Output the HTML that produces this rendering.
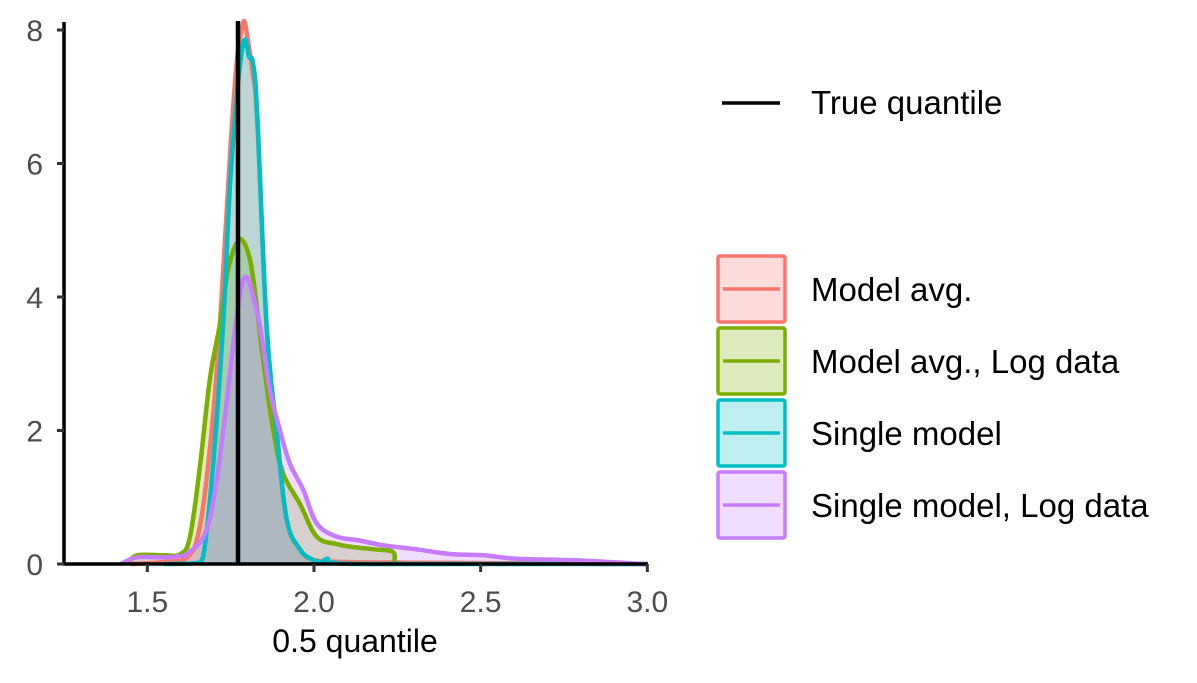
<!DOCTYPE html>
<html><head><meta charset="utf-8"><style>
body{margin:0;background:#fff;}
svg{display:block;font-family:"Liberation Sans",Arial,sans-serif;}
</style></head><body>
<svg id="chart" width="1197" height="683">
<rect width="1197" height="683" fill="#fff"/>
<g id="fills"></g><g id="lines"></g><g id="axes"></g><g id="legend"></g>
</svg>
<script>
const seriesNames = ["Model avg.","Model avg., Log data","Single model","Single model, Log data"];
const seriesColors = ["#F8766D","#7CAE00","#00BFC4","#C77CFF"];
const redX = [1.45,1.55,1.62,1.655,1.685,1.71,1.73,1.75,1.77,1.785,1.792,1.80,1.815,1.83,1.858,1.888,1.918,1.958,2.0,2.1,2.3,2.6,3.0];
const redY = [0,0.03,0.1,0.5,1.6,3.0,4.6,6.3,7.6,8.05,8.12,7.9,7.4,6.6,3.5,1.95,0.65,0.22,0.06,0.03,0.02,0.01,0];
const greenX = [1.44,1.47,1.55,1.60,1.628,1.658,1.688,1.718,1.738,1.758,1.775,1.785,1.80,1.817,1.848,1.878,1.908,1.958,2.008,2.068,2.108,2.18,2.237,2.24];
const greenY = [0,0.13,0.13,0.15,0.41,1.47,2.78,3.6,4.3,4.7,4.85,4.85,4.7,4.3,3.04,2.0,1.35,0.9,0.41,0.3,0.26,0.22,0.18,0];
const cyanX = [1.55,1.64,1.667,1.697,1.727,1.748,1.768,1.784,1.795,1.805,1.817,1.83,1.858,1.888,1.918,1.958,1.99,2.02,2.04,2.06,2.2,3.0];
const cyanY = [0,0.01,0.1,1.47,3.56,5.67,6.98,7.7,7.85,7.6,7.5,6.72,3.56,2.0,0.67,0.22,0.08,0.03,0.08,0.02,0,0];
const purpleX = [1.42,1.47,1.55,1.60,1.618,1.668,1.698,1.728,1.758,1.768,1.782,1.795,1.81,1.838,1.868,1.898,1.928,1.968,2.008,2.068,2.128,2.208,2.308,2.408,2.508,2.608,2.81,2.99];
const purpleY = [0,0.1,0.1,0.12,0.15,0.4,0.94,2.0,3.3,3.7,4.15,4.3,4.15,3.56,2.6,2.0,1.5,1.11,0.61,0.41,0.36,0.28,0.22,0.15,0.13,0.08,0.05,0];
const xTicks = [1.5,2.0,2.5,3.0];
const xTickLabels = ["1.5","2.0","2.5","3.0"];
const yTicks = [0,2,4,6,8];
const trueQuantile = 1.772;

const NS="http://www.w3.org/2000/svg";
const X = v => 64 + (v-1.25)*333.33;
const Y = d => 564 - d*66.75;
function mk(tag, attrs, parent){const e=document.createElementNS(NS,tag);for(const k in attrs)e.setAttribute(k,attrs[k]);parent.appendChild(e);return e;}
function smooth(p){
  let d="M"+p[0][0].toFixed(1)+","+p[0][1].toFixed(1);
  for(let i=0;i<p.length-1;i++){
    const p0=p[Math.max(i-1,0)],p1=p[i],p2=p[i+1],p3=p[Math.min(i+2,p.length-1)];
    const t=0.18;
    let c1y=p1[1]+(p2[1]-p0[1])*t, c2y=p2[1]-(p3[1]-p1[1])*t;
    const lo=Math.min(p1[1],p2[1])-4, hi=Math.max(p1[1],p2[1])+4;
    c1y=Math.min(Math.max(c1y,lo),Math.min(hi,564)); c2y=Math.min(Math.max(c2y,lo),Math.min(hi,564));
    d+=" C"+(p1[0]+(p2[0]-p0[0])*t).toFixed(1)+","+c1y.toFixed(1)+" "+(p2[0]-(p3[0]-p1[0])*t).toFixed(1)+","+c2y.toFixed(1)+" "+p2[0].toFixed(1)+","+p2[1].toFixed(1);
  }
  return d;
}
const fills=document.getElementById('fills'), lines=document.getElementById('lines'), axes=document.getElementById('axes'), legend=document.getElementById('legend');
const data=[[redX,redY],[greenX,greenY],[cyanX,cyanY],[purpleX,purpleY]];
const keys=["model-avg","model-avg-log","single-model","single-model-log"];
data.forEach((s,i)=>{
  const pts=s[0].map((v,j)=>[X(v),Y(s[1][j])]);
  const path=smooth(pts);
  const area=mk('path',{d:"M"+pts[0][0]+","+Y(0)+" L"+path.slice(1)+" L"+pts[pts.length-1][0]+","+Y(0)+"Z",fill:seriesColors[i],'fill-opacity':0.25,stroke:'none'},fills);
  
  
  const ln=mk('path',{d:path,fill:'none',stroke:seriesColors[i],'stroke-width':4.5,'stroke-linejoin':'round'},lines);
  
  
});
const vl=mk('line',{x1:X(trueQuantile),x2:X(trueQuantile),y1:21,y2:564,stroke:'#000','stroke-width':4.5},lines);


const ya=mk('line',{x1:64,x2:64,y1:22,y2:565,stroke:'#000','stroke-width':3.5},axes);


const xa=mk('line',{x1:63,x2:648,y1:564,y2:564,stroke:'#000','stroke-width':3.5},axes);


yTicks.forEach(t=>{
  mk('line',{x1:57,x2:64,y1:Y(t),y2:Y(t),stroke:'#333','stroke-width':3},axes);
  const tx=mk('text',{x:43,y:Y(t)+11,'text-anchor':'end','font-size':30,fill:'#4d4d4d'},axes);tx.textContent=t;
  
  
});
xTicks.forEach((t,i)=>{
  mk('line',{x1:X(t),x2:X(t),y1:564,y2:572,stroke:'#333','stroke-width':3},axes);
  const tx=mk('text',{x:X(t),y:612,'text-anchor':'middle','font-size':30,fill:'#4d4d4d'},axes);tx.textContent=xTickLabels[i];
  
  
});
const xt=mk('text',{x:355,y:652,'text-anchor':'middle','font-size':32,fill:'#000'},axes);xt.textContent="0.5 quantile";


const tl=mk('line',{x1:722,x2:780,y1:103,y2:103,stroke:'#000','stroke-width':3.5},legend);


const tt=mk('text',{x:811,y:114,'font-size':33,fill:'#000'},legend);tt.textContent="True quantile";


seriesNames.forEach((n,i)=>{
  const y0=256+i*72;
  const r=mk('rect',{x:718,y:y0,width:67,height:66,rx:2,fill:seriesColors[i],'fill-opacity':0.25,stroke:seriesColors[i],'stroke-width':3.5},legend);
  
  
  mk('line',{x1:723,x2:780,y1:y0+33,y2:y0+33,stroke:seriesColors[i],'stroke-width':3.5},legend);
  const t=mk('text',{x:811,y:y0+45,'font-size':33,fill:'#000'},legend);t.textContent=n;
  
  
});
</script>
</body></html>
